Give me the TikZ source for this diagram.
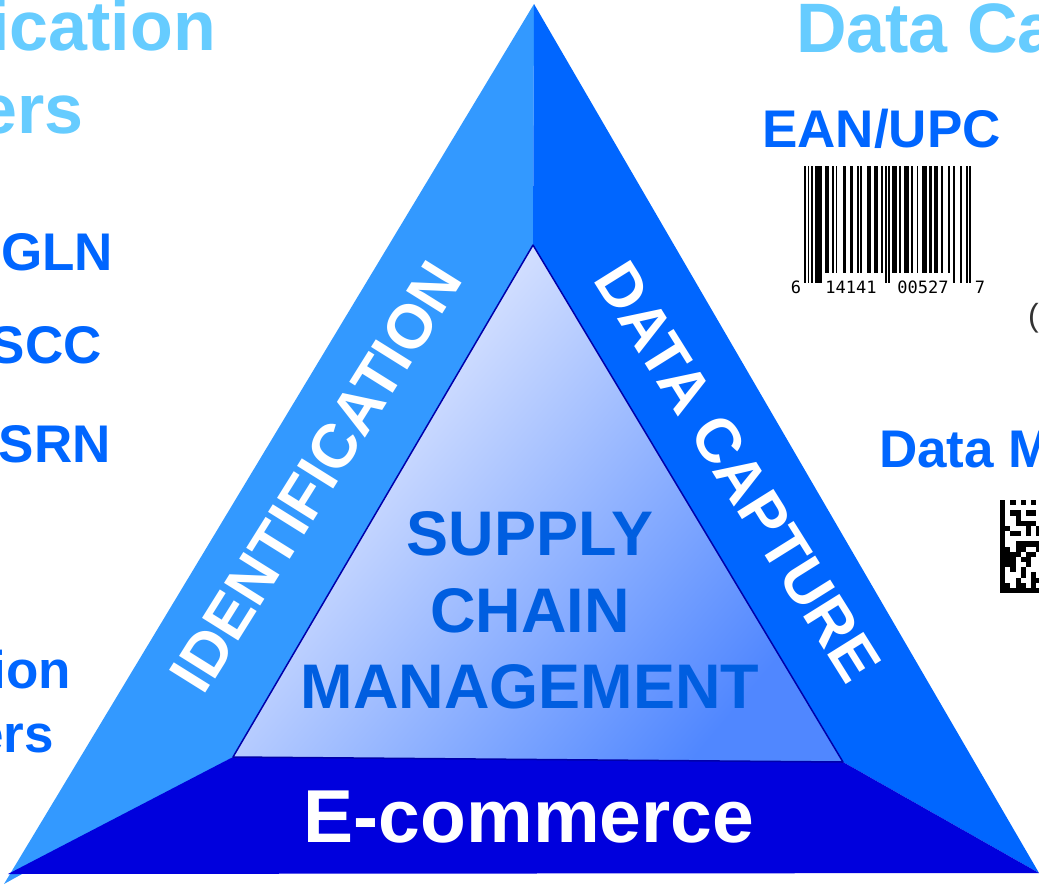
\documentclass[tikz,border=0pt]{standalone}
\usepackage{fontspec}
\setmainfont{Liberation Sans}
\newfontfamily\digitfont{DejaVu Sans Mono}

\definecolor{idblue}{RGB}{51,153,255}
\definecolor{capblue}{RGB}{0,102,255}
\definecolor{ecomblue}{RGB}{0,0,221}
\definecolor{headblue}{RGB}{102,204,255}
\definecolor{scmblue}{RGB}{0,94,224}
\definecolor{scmlight}{RGB}{242,244,255}
\definecolor{scmdark}{RGB}{80,135,255}
\definecolor{edgeblue}{RGB}{0,0,170}

\tikzset{
  head/.style={inner sep=0pt, text=headblue, font=\fontsize{70}{84}\selectfont\bfseries},
  code/.style={inner sep=0pt, text=capblue, font=\fontsize{53}{64}\selectfont\bfseries},
  side/.style={inner sep=0pt, text=white, font=\fontsize{62}{74}\selectfont\bfseries},
  scm/.style={inner sep=0pt, text=scmblue, font=\fontsize{63}{76}\selectfont\bfseries},
  digit/.style={inner sep=0pt, font=\fontsize{17}{20}\selectfont\digitfont}
}

\begin{document}
\begin{tikzpicture}[x=1pt,y=-1pt]
    \useasboundingbox (0,0) rectangle (1039,884);
    \clip (0,0) rectangle (1039,884);

    \coordinate (top) at (534,4);
    \coordinate (bl) at (8,874);
    \coordinate (br) at (1039,873);
    \coordinate (tip) at (4,884);
    \coordinate (itop) at (533,245);
    \coordinate (ibl) at (233,757);
    \coordinate (ibr) at (843,762);

    % the three sides
    \fill[idblue] (top) -- (tip) -- (ibl) -- (itop) -- cycle;
    \fill[capblue] (top) -- (itop) -- (ibr) -- (br) -- cycle;
    \fill[ecomblue] (bl) -- (br) -- (ibr) -- (ibl) -- cycle;

    % inner triangle
    \shade[top color=scmlight, bottom color=scmdark, shading angle=50] (itop) -- (ibr) -- (ibl) -- cycle;
    \draw[edgeblue, line width=1.5pt, line join=round] (itop) -- (ibr) -- (ibl) -- cycle;

    \node[side, rotate=58] (ident) at (316,477) {IDENTIFICATION};
    \node[side, rotate=-58] (capture) at (738,472) {DATA CAPTURE};
    \node[inner sep=0pt, text=white, font=\fontsize{75}{90}\selectfont\bfseries, anchor=base] (ecom) at (529,842) {E-commerce};

    \node[scm, anchor=base] (supply) at (530,555) {SUPPLY};
    \node[scm, anchor=base] (chain) at (530,632) {CHAIN};
    \node[scm, anchor=base] (mgmt) at (530,708) {MANAGEMENT};

    % left column
    \node[head, anchor=base west] (idnum) at (-220,50) {Identification};
    \node[head, anchor=base west] (numbers) at (-220,133) {Numbers};
    \node[code, anchor=base west] (gln) at (1,270) {GLN};
    \node[code, anchor=base east] (sscc) at (102,363) {SSCC};
    \node[code, anchor=base east] (gsrn) at (111,462) {GSRN};
    \node[code, anchor=base] (appl) at (-73,688) {Application};
    \node[code, anchor=base] (aiden) at (-73,752) {Identifiers};

    % right column
    \node[head, anchor=base west] (carriers) at (796,52) {Data Carriers};
    \node[code, anchor=base west] (ean) at (762,147) {EAN/UPC};
    \node[code, anchor=base west] (dmatrix) at (879,467) {Data Matrix};
    \node[inner sep=0pt, text=black!80, font=\fontsize{32}{38}\selectfont, anchor=base west] (paren) at (1028,326) {(};

    % barcode
    \foreach \s/\w/\l in {0/1/1, 2/1/1, 4/1/1, 6/4/1, 12/2/0, 16/1/0, 18/1/0, 22/2/0,
        26/2/0, 30/1/0, 32/1/0, 36/2/0, 40/2/0, 44/1/0, 46/1/1, 48/1/1, 50/3/0, 54/1/0,
        57/3/0, 61/1/0, 64/1/0, 67/3/0, 71/2/0, 74/2/0, 78/1/0, 82/1/0, 85/1/1, 89/1/1,
        92/1/1, 94/1/1}
        \fill[black] ({804+\s*1.758},166) rectangle ({804+(\s+\w)*1.758},{273+10*\l});
    \node[digit, anchor=base] (dfirst) at (796,293) {6};
    \node[digit, anchor=base] (dleft) at (851,293) {14141};
    \node[digit, anchor=base] (dright) at (923,293) {00527};
    \node[digit, anchor=base] (dlast) at (980,293) {7};

    % data matrix
    \foreach \i in {0,...,17}
        \foreach \j in {0,...,17} {
            \pgfmathtruncatemacro{\on}{(\i==0) || (\j==17) || (\j==0 && mod(\i,2)==0)
                || (\i==17 && mod(\j,2)==1)
                || (\i>0 && \i<17 && \j>0 && \j<17 && mod(\i*\i*13+\j*\j*7+\i*\j*5+3,19)<9)}
            \ifnum\on=1
                \fill[black] (1000+\i*5.17,500+\j*5.17) rectangle ++(5.25,5.25);
            \fi
        }
\end{tikzpicture}
\end{document}
